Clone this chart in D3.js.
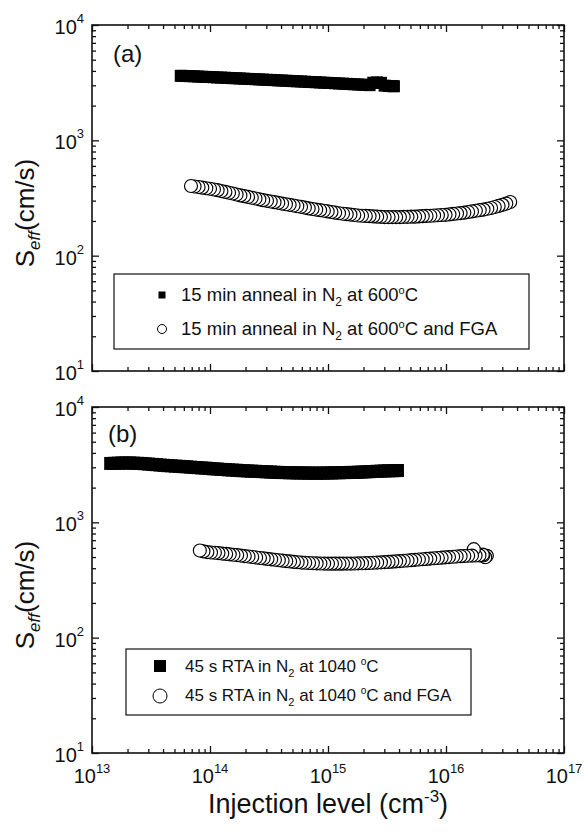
<!DOCTYPE html>
<html>
<head>
<meta charset="utf-8">
<script src="https://cdn.jsdelivr.net/npm/d3@7"></script>
<style>
  body { margin: 0; background: #fff; }
  svg { display: block; font-family: Arial, "Liberation Sans", sans-serif; }
</style>
</head>
<body>
<div id="chart"></div>
<script>
// tick values
var xMajor = [1e13, 1e14, 1e15, 1e16, 1e17];
var yMajor = [1e1, 1e2, 1e3, 1e4];

// (a) 15 min anneal in N2 at 600C  (filled squares)
var injA1 = [5.65e13, 5.90e13, 6.35e13, 6.84e13, 7.37e13, 7.93e13, 8.54e13, 9.20e13, 9.91e13,
  1.07e14, 1.15e14, 1.24e14, 1.34e14, 1.44e14, 1.55e14, 1.67e14, 1.80e14, 1.94e14, 2.09e14,
  2.25e14, 2.42e14, 2.61e14, 2.81e14, 3.02e14, 3.26e14, 3.51e14, 3.78e14, 4.07e14, 4.38e14,
  4.72e14, 5.08e14, 5.47e14, 5.90e14, 6.35e14, 6.84e14, 7.37e14, 7.93e14, 8.54e14, 9.20e14,
  9.91e14, 1.07e15, 1.15e15, 1.24e15, 1.34e15, 1.44e15, 1.55e15, 1.67e15, 1.80e15, 1.94e15,
  2.09e15, 2.25e15, 2.42e15, 2.61e15, 2.81e15, 3.02e15, 3.26e15, 3.51e15, 3.62e15];
var seffA1 = [3625, 3620, 3610, 3600, 3590, 3575, 3560, 3550, 3540,
  3525, 3510, 3500, 3490, 3475, 3460, 3450, 3440, 3425, 3410,
  3400, 3390, 3375, 3360, 3350, 3340, 3325, 3310, 3300, 3290,
  3275, 3260, 3250, 3240, 3225, 3210, 3200, 3190, 3175, 3160,
  3150, 3140, 3125, 3110, 3100, 3090, 3075, 3060, 3050, 3040,
  3025, 3010, 3160, 3180, 3150, 2980, 2960, 2950, 2945];

// (a) ... and FGA  (open circles)
var injA2 = [6.9e13, 7.4e13, 8.0e13, 8.6e13, 9.3e13,
  1.00e14, 1.08e14, 1.16e14, 1.25e14, 1.35e14, 1.45e14, 1.56e14, 1.68e14, 1.81e14, 1.95e14,
  2.10e14, 2.26e14, 2.43e14, 2.62e14, 2.82e14, 3.04e14, 3.27e14, 3.52e14, 3.79e14, 4.08e14,
  4.40e14, 4.73e14, 5.10e14, 5.49e14, 5.91e14, 6.37e14, 6.86e14, 7.39e14, 7.95e14, 8.57e14,
  9.23e14, 9.94e14, 1.07e15, 1.15e15, 1.24e15, 1.34e15, 1.44e15, 1.55e15, 1.67e15, 1.80e15,
  1.94e15, 2.09e15, 2.25e15, 2.42e15, 2.61e15, 2.81e15, 3.02e15, 3.26e15, 3.51e15, 3.78e15,
  4.07e15, 4.38e15, 4.72e15, 5.08e15, 5.47e15, 5.90e15, 6.35e15, 6.84e15, 7.37e15, 7.93e15,
  8.54e15, 9.20e15, 9.91e15, 1.07e16, 1.15e16, 1.24e16, 1.33e16, 1.43e16, 1.54e16, 1.66e16,
  1.79e16, 1.93e16, 2.08e16, 2.24e16, 2.41e16, 2.59e16, 2.79e16, 3.01e16, 3.24e16, 3.50e16];
var seffA2 = [402, 398, 394, 389, 384,
  380, 375, 370, 363, 357, 351, 346, 339, 333, 328,
  323, 318, 313, 308, 303, 299, 295, 291, 287, 283,
  279, 276, 272, 268, 265, 261, 257, 254, 251, 248,
  245, 242, 239, 236, 233, 231, 229, 227, 225, 223,
  222, 221, 220, 219, 218, 217, 216, 216, 216, 216,
  216, 217, 217, 218, 218, 219, 220, 221, 222, 223,
  224, 225, 226, 228, 230, 232, 234, 236, 239, 242,
  245, 248, 251, 255, 259, 264, 270, 276, 283, 292];

// (b) 45 s RTA in N2 at 1040 C  (filled squares)
var injB1 = [1.44e13, 1.55e13, 1.67e13, 1.80e13, 1.94e13, 2.09e13, 2.25e13, 2.42e13, 2.61e13,
  2.81e13, 3.02e13, 3.26e13, 3.51e13, 3.78e13, 4.07e13, 4.38e13, 4.72e13, 5.08e13, 5.47e13,
  5.90e13, 6.35e13, 6.84e13, 7.37e13, 7.93e13, 8.54e13, 9.20e13, 9.91e13,
  1.07e14, 1.15e14, 1.24e14, 1.34e14, 1.44e14, 1.55e14, 1.67e14, 1.80e14, 1.94e14, 2.09e14,
  2.25e14, 2.42e14, 2.61e14, 2.81e14, 3.02e14, 3.26e14, 3.51e14, 3.78e14, 4.07e14, 4.38e14,
  4.72e14, 5.08e14, 5.47e14, 5.90e14, 6.35e14, 6.84e14, 7.37e14, 7.93e14, 8.54e14, 9.20e14,
  9.91e14, 1.07e15, 1.15e15, 1.24e15, 1.34e15, 1.44e15, 1.55e15, 1.67e15, 1.80e15, 1.94e15,
  2.09e15, 2.25e15, 2.42e15, 2.61e15, 2.81e15, 3.02e15, 3.26e15, 3.51e15, 3.78e15, 3.88e15];
var seffB1 = [3240, 3250, 3260, 3270, 3270, 3270, 3260, 3250, 3240,
  3220, 3200, 3180, 3160, 3140, 3120, 3100, 3090, 3070, 3060,
  3040, 3030, 3010, 2990, 2980, 2960, 2950, 2930,
  2910, 2900, 2880, 2870, 2850, 2840, 2830, 2810, 2800, 2790,
  2780, 2770, 2760, 2750, 2740, 2730, 2720, 2710, 2700, 2700,
  2690, 2690, 2680, 2680, 2680, 2670, 2670, 2670, 2670, 2670,
  2680, 2680, 2690, 2690, 2700, 2700, 2710, 2710, 2720, 2730,
  2740, 2750, 2760, 2770, 2780, 2790, 2800, 2800, 2810, 2815];

// (b) ... and FGA  (open circles)
var injB2 = [8.2e13, 8.8e13, 9.5e13,
  1.02e14, 1.10e14, 1.18e14, 1.27e14, 1.37e14, 1.47e14, 1.58e14, 1.70e14, 1.83e14, 1.97e14,
  2.12e14, 2.28e14, 2.46e14, 2.65e14, 2.85e14, 3.07e14, 3.30e14, 3.55e14, 3.83e14, 4.12e14,
  4.43e14, 4.77e14, 5.14e14, 5.53e14, 5.96e14, 6.41e14, 6.91e14, 7.44e14, 8.01e14, 8.62e14,
  9.28e14, 1.00e15, 1.08e15, 1.16e15, 1.25e15, 1.34e15, 1.45e15, 1.56e15, 1.68e15, 1.80e15,
  1.94e15, 2.09e15, 2.25e15, 2.42e15, 2.61e15, 2.81e15, 3.03e15, 3.26e15, 3.51e15, 3.78e15,
  4.07e15, 4.38e15, 4.72e15, 5.08e15, 5.47e15, 5.89e15, 6.34e15, 6.83e15, 7.35e15, 7.92e15,
  8.53e15, 9.18e15, 9.89e15, 1.06e16, 1.15e16, 1.23e16, 1.33e16, 1.43e16, 1.54e16, 1.66e16,
  1.72e16, 1.78e16, 1.92e16, 2.05e16, 2.07e16, 2.15e16, 2.22e16];
var seffB2 = [570, 560, 552,
  548, 545, 541, 536, 532, 528, 524, 520, 515, 510,
  506, 501, 496, 491, 487, 482, 478, 474, 469, 465,
  461, 458, 454, 451, 448, 446, 444, 442, 441, 440,
  439, 438, 438, 438, 438, 438, 439, 439, 440, 441,
  442, 443, 444, 446, 448, 450, 452, 454, 456, 459,
  461, 464, 467, 470, 473, 476, 479, 482, 485, 488,
  491, 494, 497, 500, 503, 506, 509, 511, 513, 515,
  585, 516, 517, 525, 516, 498, 512];

var width = 584, height = 836;
var svg = d3.select("#chart").append("svg")
  .attr("width", width)
  .attr("height", height);

var x = d3.scaleLog().domain([1e13, 1e17]).range([92, 564]);
var xMinor = x.ticks().filter(function(d) { return xMajor.indexOf(d) < 0; });

function zip(a, b) {
  return a.map(function(v, i) { return { x: v, y: b[i] }; });
}

function supLabel(sel, size, raise) {
  sel.each(function(d) {
    var t = d3.select(this);
    t.text(null);
    t.append("tspan").text("10");
    t.append("tspan").attr("dy", -raise).attr("font-size", size)
      .text(Math.round(Math.log10(d)));
  });
}

function drawPanel(top, bottom, squares, circles, sqSize, showX) {
  var y = d3.scaleLog().domain([10, 1e4]).range([bottom, top]);
  var yMinor = y.ticks().filter(function(d) { return yMajor.indexOf(d) < 0; });
  var g = svg.append("g");

  // inside ticks on all four sides
  var sides = [
    [d3.axisBottom(x), "translate(0," + bottom + ")", xMajor, xMinor],
    [d3.axisTop(x), "translate(0," + top + ")", xMajor, xMinor],
    [d3.axisLeft(y), "translate(92,0)", yMajor, yMinor],
    [d3.axisRight(y), "translate(564,0)", yMajor, yMinor]
  ];
  sides.forEach(function(s) {
    [[s[2], -7], [s[3], -4]].forEach(function(p) {
      var ax = s[0].tickValues(p[0]).tickSize(p[1]).tickSizeOuter(0).tickFormat("");
      var a = g.append("g").attr("transform", s[1]).call(ax);
      a.select(".domain").remove();
      a.selectAll(".tick line").attr("stroke", "#111").attr("stroke-width", 1.3);
    });
  });

  // y tick labels
  g.selectAll(".ylab").data(yMajor).enter().append("text")
    .attr("x", 84).attr("y", function(d) { return y(d) + 9; })
    .attr("text-anchor", "end").attr("font-size", 20).attr("fill", "#111")
    .call(supLabel, 13, 11);

  if (showX) {
    g.selectAll(".xlab").data(xMajor).enter().append("text")
      .attr("x", function(d) { return x(d); }).attr("y", bottom + 30)
      .attr("text-anchor", "middle").attr("font-size", 20).attr("fill", "#111")
      .call(supLabel, 13, 10);
  }

  // frame
  g.append("rect").attr("x", 92).attr("y", top)
    .attr("width", 472).attr("height", bottom - top)
    .attr("fill", "none").attr("stroke", "#111").attr("stroke-width", 1.6);

  // filled squares
  g.selectAll(".sq").data(zip(squares[0], squares[1])).enter().append("rect")
    .attr("x", function(d) { return x(d.x) - sqSize / 2; })
    .attr("y", function(d) { return y(d.y) - sqSize / 2; })
    .attr("width", sqSize).attr("height", sqSize)
    .attr("fill", "#000");

  // open circles, drawn from high to low injection
  g.selectAll(".ci").data(zip(circles[0], circles[1]).reverse()).enter().append("circle")
    .attr("cx", function(d) { return x(d.x); })
    .attr("cy", function(d) { return y(d.y); })
    .attr("r", 6.5)
    .attr("fill", "#fff").attr("stroke", "#000").attr("stroke-width", 1.15);

  // y axis title
  var yt = g.append("text")
    .attr("transform", "rotate(-90)")
    .attr("x", -((top + bottom) / 2 + 15)).attr("y", 34)
    .attr("text-anchor", "middle").attr("font-size", 26).attr("fill", "#111");
  yt.append("tspan").text("S");
  yt.append("tspan").attr("dy", 6).attr("font-size", 17).attr("font-style", "italic").text("eff");
  yt.append("tspan").attr("dy", -6).text("(cm/s)");

  return { g: g, y: y };
}

var pa = drawPanel(25, 371, [injA1, seffA1], [injA2, seffA2], 12, false);
var pb = drawPanel(407, 753, [injB1, seffB1], [injB2, seffB2], 13, true);

pa.g.append("text").attr("x", 113).attr("y", 62).attr("font-size", 24).attr("fill", "#111").text("(a)");
pb.g.append("text").attr("x", 108).attr("y", 442).attr("font-size", 24).attr("fill", "#111").text("(b)");

// legend (a)
var la = pa.g.append("g");
la.append("rect").attr("x", 114).attr("y", 274).attr("width", 415).attr("height", 75)
  .attr("fill", "#fff").attr("stroke", "#111").attr("stroke-width", 1.2);
la.append("rect").attr("x", 158.5).attr("y", 291.5).attr("width", 7).attr("height", 7).attr("fill", "#000");
la.append("circle").attr("cx", 162).attr("cy", 329).attr("r", 4.5)
  .attr("fill", "#fff").attr("stroke", "#000");
function legText(parent, xx, yy, size, pre, mid, post) {
  var t = parent.append("text").attr("x", xx).attr("y", yy).attr("font-size", size).attr("fill", "#111");
  t.append("tspan").text(pre);
  t.append("tspan").attr("dy", 5).attr("font-size", size * 0.65).text("2");
  t.append("tspan").attr("dy", -5).text(mid);
  t.append("tspan").attr("dy", -7).attr("font-size", size * 0.6).text("o");
  t.append("tspan").attr("dy", 7).text(post);
  return t;
}
legText(la, 181, 301, 18.5, "15 min anneal in N", " at 600", "C");
legText(la, 181, 335, 18.5, "15 min anneal in N", " at 600", "C and FGA");

// legend (b)
var lb = pb.g.append("g");
lb.append("rect").attr("x", 126).attr("y", 649).attr("width", 345).attr("height", 66)
  .attr("fill", "#fff").attr("stroke", "#111").attr("stroke-width", 1.2);
lb.append("rect").attr("x", 154).attr("y", 660).attr("width", 12).attr("height", 12).attr("fill", "#000");
lb.append("circle").attr("cx", 160).attr("cy", 696).attr("r", 7)
  .attr("fill", "#fff").attr("stroke", "#000");
legText(lb, 185, 672, 17, "45 s RTA in N", " at 1040 ", "C");
legText(lb, 185, 701, 17, "45 s RTA in N", " at 1040 ", "C and FGA");

// x axis title
var xt = svg.append("text").attr("x", 328).attr("y", 813)
  .attr("text-anchor", "middle").attr("font-size", 27).attr("fill", "#111");
xt.append("tspan").text("Injection level (cm");
xt.append("tspan").attr("dy", -11).attr("font-size", 17).text("-3");
xt.append("tspan").attr("dy", 11).text(")");
</script>
</body>
</html>
